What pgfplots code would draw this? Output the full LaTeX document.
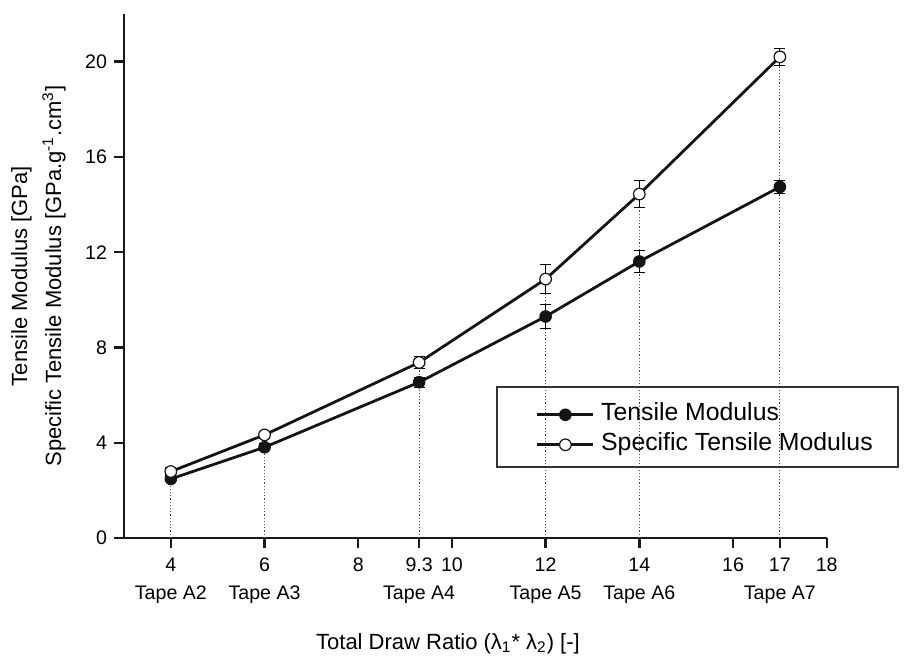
\documentclass[border=0pt]{standalone}
\usepackage{fontspec}
\setmainfont{Liberation Sans}
\usepackage{pgfplots}
\usepackage{pgfplotstable}
\pgfplotsset{compat=1.18}

% Tensile modulus and specific tensile modulus of the drawn tapes
\pgfplotstableread{
x    y      err
4    2.48   0.12
6    3.81   0.15
9.3  6.54   0.20
12   9.30   0.49
14   11.61  0.46
17   14.74  0.27
}\tensile
\pgfplotstableread{
x    y      err
4    2.79   0.15
6    4.33   0.15
9.3  7.37   0.25
12   10.87  0.60
14   14.44  0.56
17   20.20  0.35
}\specific

\begin{document}
\begin{tikzpicture}
\useasboundingbox (-62pt,-58.5pt) rectangle (395pt,269pt);
\begin{axis}[
  name=ax,
  at={(0,0)}, anchor=south west,
  scale only axis,
  width=351.35pt, height=262pt,
  xmin=3, xmax=18, ymin=0, ymax=22,
  axis x line*=bottom, axis y line*=left,
  axis line style={line width=1.2pt, black!90},
  tick align=outside, major tick length=5pt,
  tick style={line width=1.2pt, black!90},
  xtick={4,6,8,9.3,10,12,14,16,17,18},
  xticklabels={{4\\Tape A2},{6\\Tape A3},8,{9.3\\Tape A4},10,{12\\Tape A5},{14\\Tape A6},16,{17\\Tape A7},18},
  xticklabel style={align=center, yshift=-1.5pt, font=\fontsize{9.8}{14}\selectfont},
  ytick={0,4,8,12,16,20},
  yticklabel style={font=\fontsize{9.8}{11}\selectfont},
  /pgf/number format/assume math mode=true,
  xlabel={Total Draw Ratio (λ\textsubscript{1}* λ\textsubscript{2}) [-]},
  xlabel style={at={(axis description cs:0.461,-0.2023)}, anchor=center, font=\fontsize{11}{13}\selectfont},
  ylabel={Tensile Modulus [GPa]\\Specific Tensile Modulus [GPa.g\textsuperscript{-1}.cm\textsuperscript{3}]},
  ylabel style={at={(axis description cs:-0.1217,0.5)}, anchor=center, align=center, font=\fontsize{11}{17}\selectfont},
  legend style={draw=none, fill=none, at={(axis description cs:0.5857,0.2588)}, anchor=north west,
    inner sep=0pt, row sep=3pt, font=\fontsize{12.4}{14}\selectfont,
    nodes={inner sep=0pt, text height=9pt, text depth=3pt}},
  legend cell align=left,
  legend image code/.code={
    \draw[#1, mark repeat=2, mark phase=2] plot coordinates {(0pt,0pt) (14pt,0pt) (28pt,0pt)};
    \path (31.2pt,0pt);
  },
  error bars/error bar style={line width=0.5pt, black},
  error bars/error mark options={rotate=90, mark size=2.75pt, line width=0.5pt},
]
% dotted drop lines from the axis up to each tape
\addplot[ycomb, densely dotted, black!72, line width=0.6pt, forget plot] table[x=x, y=y] {\specific};

\addplot[line width=1.4pt, black!92, mark=*, mark size=2.9pt,
  mark options={fill=black!92, draw=black!92, line width=0.5pt},
  error bars/.cd, y dir=both, y explicit]
  table[x=x, y=y, y error=err] {\tensile};
\addlegendentry{Tensile Modulus}

\addplot[line width=1.4pt, black!92, mark=*, mark size=2.9pt,
  mark options={fill=white, draw=black!92, line width=0.6pt},
  error bars/.cd, y dir=both, y explicit]
  table[x=x, y=y, y error=err] {\specific};
\addlegendentry{Specific Tensile Modulus}
\end{axis}
\draw[line width=0.65pt, black!80] ([shift={(186.5pt,35.5pt)}]ax.south west) rectangle ++(200.5pt,40pt);
\end{tikzpicture}
\end{document}
